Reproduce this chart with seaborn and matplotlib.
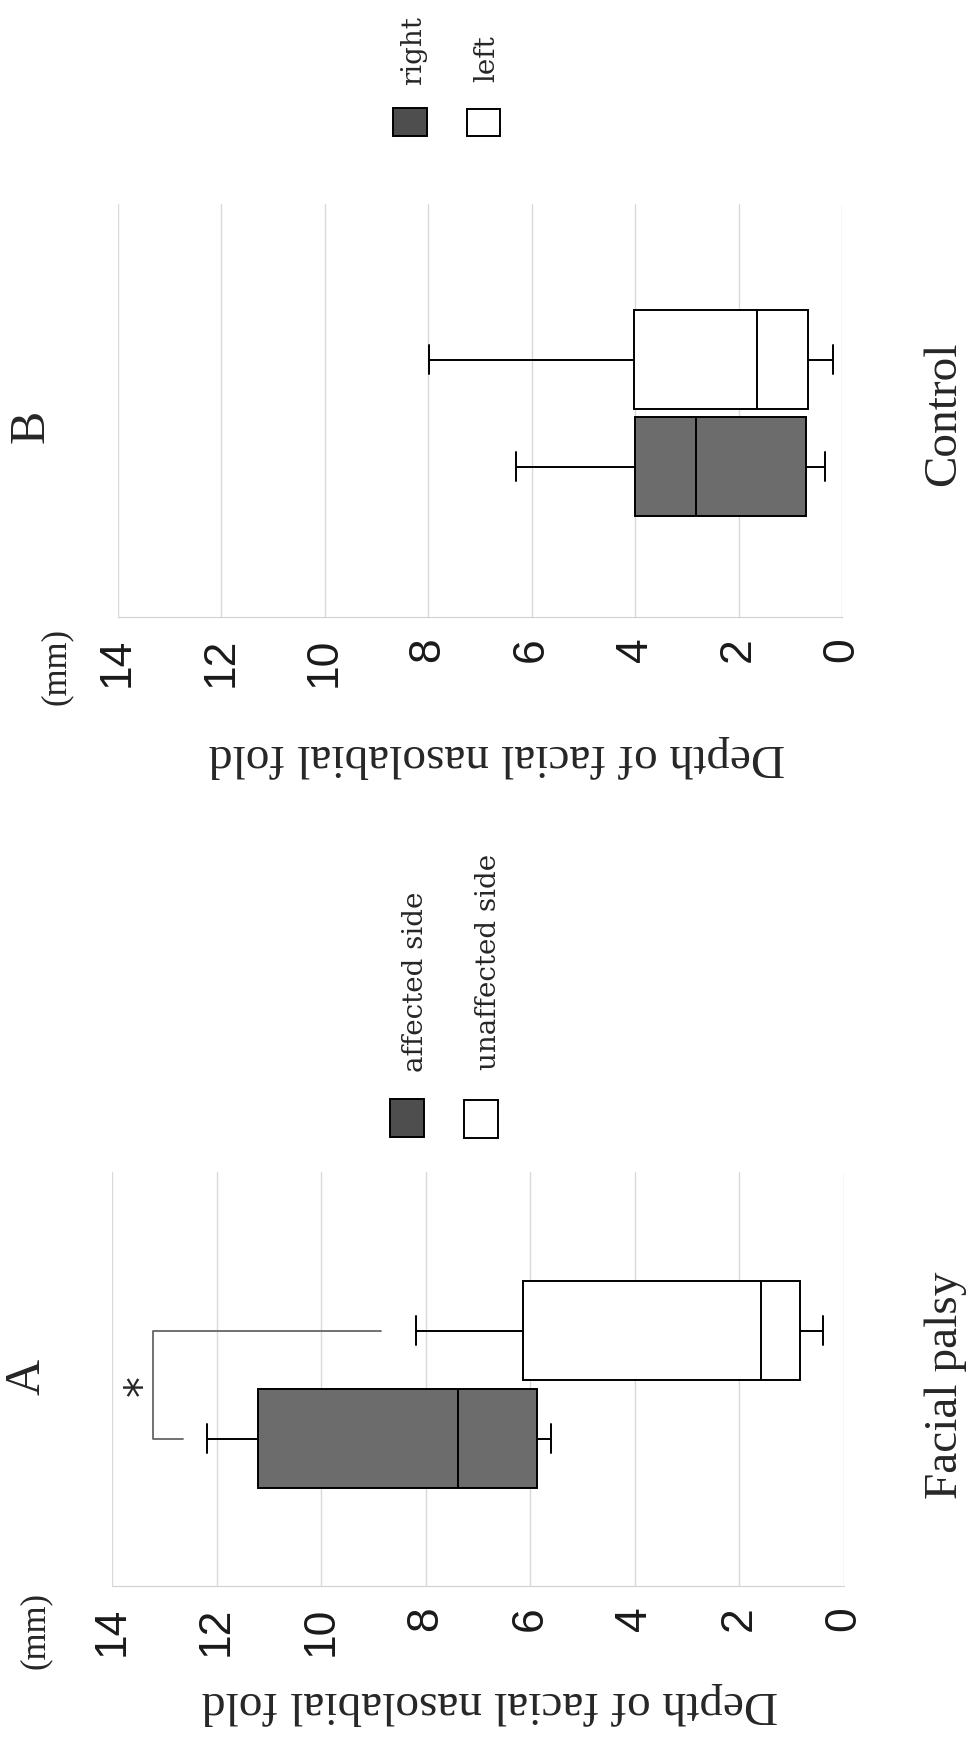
import pandas as pd
import matplotlib.pyplot as plt
from matplotlib.patches import Rectangle
import seaborn as sns

palsy_affected = [5.60, 5.87, 7.38, 11.20, 12.18]
palsy_unaffected = [0.41, 0.84, 1.59, 6.13, 8.18]
control_right = [0.33, 0.70, 2.83, 4.00, 6.29]
control_left = [0.18, 0.65, 1.64, 4.01, 7.99]

palsy_sides = ['affected side', 'unaffected side']
control_sides = ['right', 'left']
depth_ticks = [0, 2, 4, 6, 8, 10, 12, 14]

# significance bracket between the two palsy boxes (mm)
bracket_x = [12.64, 13.21, 13.21, 8.85]
star_x = 13.42

box_colors = ['#6c6c6c', 'white']
legend_colors = ['#4e4e4e', 'white']

W, H = 972, 1740


def fx(px):
    return px / W


def fy(py):
    return 1 - py / H


def make_df(group, sides, a, b):
    return pd.DataFrame({
        'group': group,
        'side': [sides[0]] * len(a) + [sides[1]] * len(b),
        'depth': a + b,
    })


df_a = make_df('Facial palsy', palsy_sides, palsy_affected, palsy_unaffected)
df_b = make_df('Control', control_sides, control_right, control_left)

sns.set_style('white')
plt.rcParams['font.family'] = ['Liberation Serif', 'DejaVu Serif']

fig = plt.figure(figsize=(W / 100, H / 100), dpi=100)
# the page is turned a quarter turn: depth runs right to left, texts read upward
ax_b = fig.add_axes([fx(117.5), fy(618), (842 - 117.5) / W, (618 - 205) / H])
ax_a = fig.add_axes([fx(112), fy(1587), (844 - 112) / W, (1587 - 1173) / H])


def panel(ax, df, sides, ylim):
    sns.boxplot(data=df, x='depth', y='group', hue='side', hue_order=sides, orient='h',
                palette=dict(zip(sides, box_colors)), saturation=1, width=0.8, gap=0.08,
                whis=(0, 100), linecolor='black', linewidth=1.4, fliersize=0,
                capwidths=0.107, legend=False, ax=ax)
    ax.set_xlim(14, 0)
    ax.set_ylim(*ylim)
    ax.set_xticks(depth_ticks)
    ax.grid(axis='x', color='#d9d9d9', linewidth=1)
    ax.grid(axis='y', visible=False)
    ax.set_axisbelow(True)
    for s in ['top', 'left', 'right']:
        ax.spines[s].set_visible(False)
    ax.spines['bottom'].set_color('#d0d0d0')
    ax.set_xlabel('')
    ax.set_ylabel('')
    ax.tick_params(axis='x', length=0, pad=14, labelrotation=90, labelsize=32,
                   labelcolor='#1a1a1a')
    for lab in ax.get_xticklabels():
        lab.set_family('Liberation Sans')
    ax.yaxis.tick_right()
    ax.tick_params(axis='y', length=0, pad=58, labelrotation=90, labelsize=34)
    for lab in ax.get_yticklabels():
        lab.set_va('center')


panel(ax_a, df_a, palsy_sides, (-0.746, 0.787))
panel(ax_b, df_b, control_sides, (-0.76, 0.78))

# bracket and asterisk between affected and unaffected side
ax_a.plot(bracket_x, [-0.2, -0.2, 0.2, 0.2], color='#666666', linewidth=1.3)
ax_a.text(star_x, 0, '*', rotation=90, ha='center', va='center', fontsize=30,
          family='DejaVu Sans')

# panel letters, units, axis titles
fig.text(fx(27), fy(1377), 'A', rotation=90, ha='center', va='center', fontsize=36)
fig.text(fx(31), fy(426), 'B', rotation=90, ha='center', va='center', fontsize=36)
fig.text(fx(35), fy(1631), '(mm)', rotation=90, ha='center', va='center', fontsize=25)
fig.text(fx(56), fy(667), '(mm)', rotation=90, ha='center', va='center', fontsize=25)
fig.text(fx(490), fy(1704), 'Depth of facial nasolabial fold', rotation=180,
         ha='center', va='center', fontsize=34)
fig.text(fx(497), fy(757), 'Depth of facial nasolabial fold', rotation=180,
         ha='center', va='center', fontsize=34)

# legends, drawn by hand so the labels can stand upright like the rest
legend_a = [(390, 1100, 34, 38, 415, 1072), (464, 1101, 34, 38, 488, 1070)]
legend_b = [(393, 109, 34, 28, 414, 85), (467, 110, 33, 27, 487, 82)]
for items, sides in [(legend_a, palsy_sides), (legend_b, control_sides)]:
    for (x0, y0, w, h, tx, ty), side, col in zip(items, sides, legend_colors):
        fig.add_artist(Rectangle((fx(x0), fy(y0 + h)), w / W, h / H, transform=fig.transFigure,
                                 facecolor=col, edgecolor='black', linewidth=1.4))
        fig.text(fx(tx), fy(ty), side, rotation=90, ha='center', va='bottom',
                 fontsize=20, family='DejaVu Serif')

fig.savefig('out.png', dpi=100, facecolor='white')
